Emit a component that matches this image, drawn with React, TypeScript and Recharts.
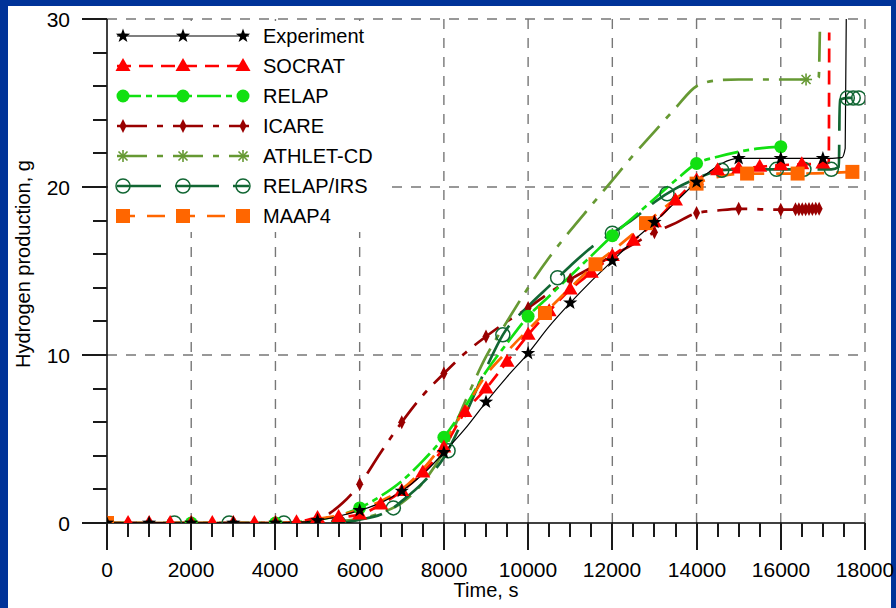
import React from 'react';
import { ComposedChart, Line, Scatter, XAxis, YAxis, ReferenceLine, Legend } from 'recharts';

type Pt = [number, number];

// time (s), hydrogen (g)
const experimentLine: Pt[] = [
  [0, 0], [1000, 0], [2000, 0], [3000, 0], [4000, 0], [4500, 0.05], [5000, 0.15], [5500, 0.4],
  [6000, 0.75], [6500, 1.2], [7000, 1.9], [7500, 2.9], [8000, 4.2], [8500, 5.6], [9000, 7.2],
  [9500, 8.7], [10000, 10.1], [10500, 11.7], [11000, 13.1], [11500, 14.4], [12000, 15.6],
  [12500, 16.8], [13000, 17.9], [13500, 19.1], [14000, 20.3], [14300, 20.9], [14600, 21.4],
  [15000, 21.7], [16000, 21.7], [17000, 21.7], [17450, 21.75], [17530, 22.3], [17555, 30],
];
const experimentMarks: Pt[] = [
  [0, 0], [1000, 0], [2000, 0], [3000, 0], [4000, 0], [5000, 0.15], [6000, 0.75], [7000, 1.9],
  [8000, 4.2], [9000, 7.2], [10000, 10.1], [11000, 13.1], [12000, 15.6], [13000, 17.9],
  [14000, 20.3], [15000, 21.7], [16000, 21.7], [17000, 21.7],
];

const socratLine: Pt[] = [
  [0, 0], [500, 0], [1000, 0], [1500, 0], [2000, 0], [2500, 0], [3000, 0], [3500, 0], [4000, 0],
  [4500, 0.05], [5000, 0.3], [5500, 0.35], [6000, 0.5], [6500, 1.1], [7000, 1.9], [7500, 3.0],
  [8000, 4.5], [8500, 6.6], [9000, 8.0], [9500, 9.6], [10000, 11.2], [10500, 12.6], [11000, 13.9],
  [11500, 14.9], [12000, 15.9], [12500, 16.8], [13000, 17.9], [13500, 19.2], [14000, 20.4],
  [14500, 21.0], [15000, 21.1], [15500, 21.2], [16000, 21.3], [16500, 21.35], [17000, 21.4],
  [17140, 21.45], [17150, 29.2],
];
const socratMarks: Pt[] = socratLine.filter(([t]) => t <= 17000);

const relapLine: Pt[] = [
  [0, 0], [2000, 0], [4000, 0], [4500, 0.05], [5000, 0.2], [5500, 0.45], [6000, 0.9], [6500, 1.6],
  [7000, 2.5], [7500, 3.7], [8000, 5.1], [8500, 6.9], [9000, 9.0], [9500, 10.7], [10000, 12.3],
  [10500, 13.5], [11000, 14.7], [11500, 15.9], [12000, 17.1], [12500, 18.2], [13000, 19.3],
  [13500, 20.4], [14000, 21.4], [14500, 21.8], [15000, 22.1], [15500, 22.3], [16000, 22.4],
];
const relapMarks: Pt[] = [
  [0, 0], [2000, 0], [4000, 0], [6000, 0.9], [8000, 5.1], [10000, 12.3], [12000, 17.1],
  [14000, 21.4], [16000, 22.4],
];

const icareLine: Pt[] = [
  [0, 0], [4500, 0], [5000, 0.15], [5300, 0.6], [5600, 1.2], [6000, 2.3], [6500, 4.2], [7000, 6.0],
  [7500, 7.6], [8000, 8.9], [8500, 10.1], [9000, 11.1], [9500, 12.0], [10000, 12.8], [10500, 13.7],
  [11000, 14.5], [11500, 15.2], [12000, 15.9], [12500, 16.6], [13000, 17.3], [13500, 17.85],
  [14000, 18.45], [14500, 18.6], [15000, 18.7], [16000, 18.65], [17000, 18.7],
];
const icareMarks: Pt[] = [
  [6000, 2.3], [7000, 6.0], [8000, 8.9], [9000, 11.1], [10000, 12.8], [11000, 14.5], [12000, 15.9],
  [13000, 17.3], [14000, 18.45], [15000, 18.7], [16000, 18.65], [16350, 18.67], [16430, 18.67],
  [16510, 18.68], [16590, 18.68], [16670, 18.69], [16750, 18.69], [16830, 18.7], [16910, 18.7],
];

const athletLine: Pt[] = [
  [0, 0], [5000, 0], [5500, 0.1], [6000, 0.25], [6500, 0.6], [7000, 1.2], [7500, 2.4], [8000, 4.3],
  [8500, 7.2], [9000, 9.9], [9500, 12.0], [10000, 14.0], [10500, 15.8], [11000, 17.4], [11500, 18.9],
  [12000, 20.4], [12500, 21.9], [13000, 23.3], [13500, 24.7], [14000, 26.0], [14500, 26.35],
  [15000, 26.4], [16000, 26.4], [16600, 26.4], [16900, 26.5], [16930, 29.6],
];
const athletMarks: Pt[] = [[16600, 26.4]];

const irsLine: Pt[] = [
  [0, 0], [5500, 0], [6000, 0.2], [6500, 0.5], [6800, 0.9], [7000, 1.3], [7500, 2.4], [8000, 3.9],
  [8500, 6.4], [9000, 9.2], [9400, 11.2], [10000, 12.9], [10500, 14.1], [11000, 15.3], [11500, 16.4],
  [12000, 17.25], [12500, 18.1], [13000, 19.1], [13500, 19.9], [14000, 20.5], [14600, 21.0],
  [15000, 21.05], [16000, 21.05], [17200, 21.05], [17380, 21.2], [17400, 25.2], [17600, 25.3],
  [18000, 25.3],
];
const irsMarks: Pt[] = [
  [1600, 0], [2900, 0], [4200, 0], [5500, 0], [6800, 0.9], [8100, 4.3], [9400, 11.2], [10700, 14.6],
  [12000, 17.25], [13300, 19.6], [14600, 21.0], [15900, 21.05], [16550, 21.05], [17200, 21.05],
  [17580, 25.3], [17720, 25.3], [17850, 25.3],
];

const maapLine: Pt[] = [
  [0, 0], [4500, 0], [5000, 0.25], [5500, 0.45], [6000, 0.8], [6500, 1.3], [7000, 2.0], [7500, 3.2],
  [8000, 4.8], [8500, 6.8], [9000, 8.8], [9500, 10.2], [10000, 11.5], [10400, 12.5], [11000, 14.0],
  [11600, 15.4], [12200, 16.6], [12800, 17.85], [13400, 19.1], [14000, 20.2], [14600, 20.65],
  [15200, 20.8], [16400, 20.8], [17700, 20.9],
];
const maapMarks: Pt[] = [
  [0, 0], [10400, 12.5], [11600, 15.4], [12800, 17.85], [14000, 20.2], [15200, 20.8], [16400, 20.8],
  [17700, 20.9],
];

const xTicks = Array.from({ length: 37 }, (_, i) => i * 500);
const yTicks = Array.from({ length: 16 }, (_, i) => i * 2);
const xGrid = [2000, 4000, 6000, 8000, 10000, 12000, 14000, 16000, 18000];
const yGrid = [10, 20, 30];

type Kind = 'star' | 'triangle' | 'dot' | 'diamond' | 'asterisk' | 'ring' | 'square';

interface Series {
  name: string;
  color: string;
  width: number;
  dash?: string;
  kind: Kind;
  line: Pt[];
  marks: Pt[];
}

const series: Series[] = [
  { name: 'Experiment', color: '#000000', width: 1.2, kind: 'star', line: experimentLine, marks: experimentMarks },
  { name: 'SOCRAT', color: '#ff0000', width: 2.7, dash: '14 8', kind: 'triangle', line: socratLine, marks: socratMarks },
  { name: 'RELAP', color: '#11e011', width: 2.7, dash: '24 5 6 5', kind: 'dot', line: relapLine, marks: relapMarks },
  { name: 'ICARE', color: '#990000', width: 2.7, dash: '30 10 6 10', kind: 'diamond', line: icareLine, marks: icareMarks },
  { name: 'ATHLET-CD', color: '#669933', width: 2.7, dash: '30 10 6 10', kind: 'asterisk', line: athletLine, marks: athletMarks },
  { name: 'RELAP/IRS', color: '#116633', width: 2.7, dash: '44 14', kind: 'ring', line: irsLine, marks: irsMarks },
  { name: 'MAAP4', color: '#ff6600', width: 2.7, dash: '18 12', kind: 'square', line: maapLine, marks: maapMarks },
];

// draw order: experiment on top
const drawOrder = ['ICARE', 'ATHLET-CD', 'RELAP/IRS', 'RELAP', 'SOCRAT', 'MAAP4', 'Experiment'];

const FONT = "'Liberation Sans', Arial, sans-serif";
const TICK_COLOR = '#1a1a1a';

const toRows = (pts: Pt[]) => pts.map(([t, h]) => ({ t, h }));

const Marker = ({ kind, x, y, color }: { kind: Kind; x: number; y: number; color: string }) => {
  if (x == null || y == null || isNaN(x) || isNaN(y)) return null;
  switch (kind) {
    case 'star': {
      const pts: string[] = [];
      for (let i = 0; i < 10; i++) {
        const r = i % 2 === 0 ? 7.5 : 3;
        const a = -Math.PI / 2 + (i * Math.PI) / 5;
        pts.push(`${x + r * Math.cos(a)},${y + r * Math.sin(a)}`);
      }
      return <polygon points={pts.join(' ')} fill={color} />;
    }
    case 'triangle':
      return <polygon points={`${x},${y - 8} ${x + 7.5},${y + 5} ${x - 7.5},${y + 5}`} fill={color} />;
    case 'dot':
      return <circle cx={x} cy={y} r={6.5} fill={color} />;
    case 'diamond':
      return <polygon points={`${x},${y - 7} ${x + 3.5},${y} ${x},${y + 7} ${x - 3.5},${y}`} fill={color} />;
    case 'asterisk':
      return (
        <g stroke={color} strokeWidth={1.6}>
          <line x1={x - 6} y1={y} x2={x + 6} y2={y} />
          <line x1={x} y1={y - 6} x2={x} y2={y + 6} />
          <line x1={x - 4.5} y1={y - 4.5} x2={x + 4.5} y2={y + 4.5} />
          <line x1={x - 4.5} y1={y + 4.5} x2={x + 4.5} y2={y - 4.5} />
        </g>
      );
    case 'ring':
      return <circle cx={x} cy={y} r={7} fill="none" stroke={color} strokeWidth={1.5} />;
    case 'square':
      return <rect x={x - 7} y={y - 7} width={14} height={14} fill={color} />;
  }
  return null;
};

// ticks point outward: long ones at labelled values, short ones between
const renderXTick = (props: any) => {
  const x = Math.round(Number(props.x));
  const y = Math.round(Number(props.y));
  const v = props.payload.value;
  const major = v % 2000 === 0;
  return (
    <g>
      <rect x={x - 1} y={y} width={2} height={major ? 27 : 14} fill={TICK_COLOR} />
      {major && (
        <text x={x} y={y + 54} textAnchor="middle" fontSize={21} fontFamily={FONT} fill="#000">
          {v}
        </text>
      )}
    </g>
  );
};

const renderYTick = (props: any) => {
  const x = Math.round(Number(props.x));
  const y = Math.round(Number(props.y));
  const v = props.payload.value;
  const major = v % 10 === 0;
  const len = major ? 25 : 14;
  return (
    <g>
      <rect x={x - len} y={y - 1} width={len} height={2} fill={TICK_COLOR} />
      {major && (
        <text x={x - 37} y={y} textAnchor="end" dominantBaseline="central" fontSize={21} fontFamily={FONT} fill="#000">
          {v}
        </text>
      )}
    </g>
  );
};

const XTitle = () => (
  <text x={486} y={597} textAnchor="middle" fontSize={20} fontFamily={FONT} fill="#000">
    Time, s
  </text>
);

const YTitle = () => (
  <text
    x={23}
    y={264}
    transform="rotate(-90 23 264)"
    textAnchor="middle"
    dominantBaseline="central"
    fontSize={20}
    fontFamily={FONT}
    fill="#000"
  >
    Hydrogen production, g
  </text>
);

const LegendBox = () => (
  <svg width={276} height={211} style={{ display: 'block' }}>
    {series.map((s, i) => {
      const cy = 15 + i * 30;
      return (
        <g key={s.name}>
          <line x1={9} x2={141} y1={cy} y2={cy} stroke={s.color} strokeWidth={s.width} strokeDasharray={s.dash} />
          {[15, 75, 135].map((mx) => (
            <Marker key={mx} kind={s.kind} x={mx} y={cy} color={s.color} />
          ))}
          <text x={155} y={cy} dominantBaseline="central" fontSize={20} fontFamily={FONT} fill="#000">
            {s.name}
          </text>
        </g>
      );
    })}
  </svg>
);

export default function App() {
  const ordered = drawOrder.map((n) => series.find((s) => s.name === n)!);
  return (
    <div style={{ position: 'absolute', left: 0, top: 0, width: 896, height: 608, background: '#003399', overflow: 'hidden' }}>
      <div style={{ position: 'absolute', left: 8, top: 6, width: 883, height: 602, background: '#ffffff' }} />
      <div style={{ position: 'absolute', left: 0, top: 0 }}>
        <ComposedChart width={896} height={608} margin={{ top: 19, right: 31, bottom: 0, left: 0 }}>
          <XAxis
            dataKey="t"
            type="number"
            domain={[0, 18000]}
            ticks={xTicks}
            interval={0}
            allowDataOverflow
            height={85}
            tickSize={0}
            tickMargin={0}
            tickLine={false}
            tick={renderXTick}
            axisLine={{ stroke: '#000', strokeWidth: 1.5 }}
            label={<XTitle />}
          />
          <YAxis
            dataKey="h"
            type="number"
            domain={[0, 30]}
            ticks={yTicks}
            interval={0}
            allowDataOverflow
            width={107}
            tickSize={0}
            tickMargin={0}
            tickLine={false}
            tick={renderYTick}
            axisLine={{ stroke: '#000', strokeWidth: 1.5 }}
            label={<YTitle />}
          />
          {xGrid.map((v) => (
            <ReferenceLine key={`gx${v}`} x={v} stroke="#777777" strokeWidth={1.4} strokeDasharray="10 9" />
          ))}
          {yGrid.map((v) => (
            <ReferenceLine key={`gy${v}`} y={v} stroke="#777777" strokeWidth={1.4} strokeDasharray="10 9" />
          ))}
          {ordered.map((s) => (
            <Line
              key={`l-${s.name}`}
              data={toRows(s.line)}
              dataKey="h"
              type="monotone"
              stroke={s.color}
              strokeWidth={s.width}
              strokeDasharray={s.dash}
              dot={false}
              activeDot={false}
              isAnimationActive={false}
              legendType="none"
            />
          ))}
          {ordered.map((s) => (
            <Scatter
              key={`m-${s.name}`}
              data={toRows(s.marks)}
              dataKey="h"
              isAnimationActive={false}
              legendType="none"
              shape={(p: any) => <Marker kind={s.kind} x={p.cx} y={p.cy} color={s.color} />}
            />
          ))}
          <Legend
            layout="vertical"
            align="center"
            verticalAlign="middle"
            content={() => <LegendBox />}
            wrapperStyle={{ left: 108, top: 21, width: 276, height: 211, background: '#ffffff' }}
          />
        </ComposedChart>
      </div>
    </div>
  );
}
